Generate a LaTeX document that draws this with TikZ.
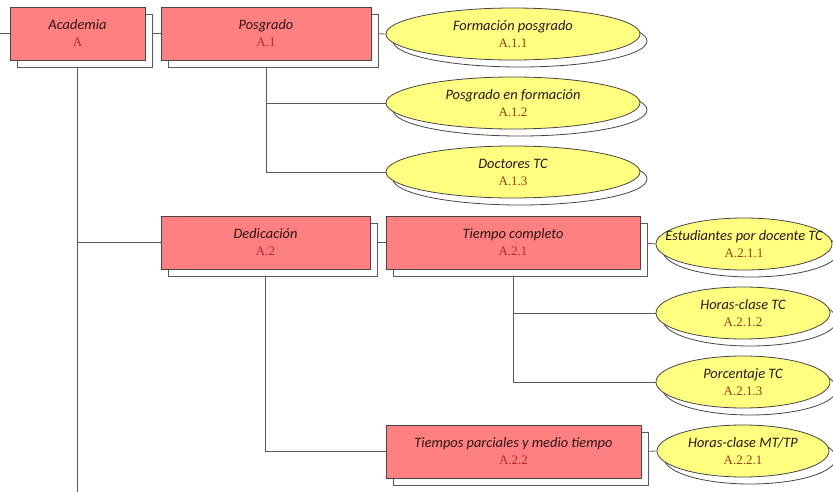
\documentclass[tikz,border=0pt]{standalone}
\usepackage{fontspec}
\setmainfont{Liberation Serif}
\newfontfamily\carl{Carlito}
\usetikzlibrary{shapes.geometric,shadows,backgrounds}
\definecolor{boxfill}{RGB}{255,128,128}
\definecolor{ellfill}{RGB}{255,255,128}
\definecolor{titcol}{RGB}{45,20,20}
\definecolor{boxcode}{RGB}{185,40,50}
\definecolor{ellcode}{RGB}{160,60,20}
\definecolor{edgecol}{RGB}{70,70,70}
\definecolor{linecol}{RGB}{90,90,90}
\newcommand{\tit}[1]{{\fontsize{14.4}{17}\selectfont\carl\itshape\color{titcol}#1}}
\tikzset{
  box/.style={rectangle, draw=edgecol, line width=0.8pt, fill=boxfill, inner sep=0pt,
    minimum height=53pt, align=center, font=\fontsize{13}{17}\selectfont, text=boxcode,
    general shadow={shadow xshift=7pt, shadow yshift=-7pt, fill=white, draw=linecol, line width=0.8pt}},
  ell/.style={ellipse, draw=edgecol, line width=0.8pt, fill=ellfill, inner sep=0pt,
    minimum height=52pt,
    general shadow={shadow xshift=7pt, shadow yshift=-7pt, fill=white, draw=edgecol, line width=0.8pt}},
  elltext/.style={align=center, font=\fontsize{13}{17}\selectfont, text=ellcode, inner sep=0pt},
  conn/.style={draw=linecol, line width=0.8pt}
}
\begin{document}
\begin{tikzpicture}[x=1pt,y=-1pt]
\useasboundingbox (0,0) rectangle (833,492);
% boxes
\node[box, minimum width=135pt] (acad) at (77.5,33.5) {\tit{Academia}\\A};
\node[box, minimum width=210pt] (posg) at (266,33.5) {\tit{Posgrado}\\A.1};
\node[box, minimum width=209pt] (ded) at (265.5,242.5) {\tit{Dedicación}\\A.2};
\node[box, minimum width=254pt] (tc) at (513,242.5) {\tit{Tiempo completo}\\A.2.1};
\node[box, minimum width=255pt] (tp) at (513.5,451.5) {\tit{Tiempos parciales y medio tiempo}\\A.2.2};
% ellipses
\node[ell, minimum width=254pt] (f1) at (513,34) {};
\node[elltext] (f1t) at (f1) {\tit{Formación posgrado}\\A.1.1};
\node[ell, minimum width=254pt] (f2) at (513,103) {};
\node[elltext] (f2t) at (f2) {\tit{Posgrado en formación}\\A.1.2};
\node[ell, minimum width=254pt] (f3) at (513,172) {};
\node[elltext] (f3t) at (f3) {\tit{Doctores TC}\\A.1.3};
\node[ell, minimum width=176pt] (e1) at (744,244) {};
\node[elltext] (e1t) at (e1) {\tit{Estudiantes por docente TC}\\A.2.1.1};
\node[ell, minimum width=174pt] (e2) at (743,313) {};
\node[elltext] (e2t) at (e2) {\tit{Horas-clase TC}\\A.2.1.2};
\node[ell, minimum width=174pt] (e3) at (743,382) {};
\node[elltext] (e3t) at (e3) {\tit{Porcentaje TC}\\A.2.1.3};
\node[ell, minimum width=172pt] (e4) at (743,451) {};
\node[elltext] (e4t) at (e4) {\tit{Horas-clase MT/TP}\\A.2.2.1};
\coordinate (lstub) at (0,33.5);
\coordinate (bottom) at (77.5,492);
\begin{pgfonlayer}{background}
\draw[conn] (lstub) -- (acad.west);
\draw[conn] (acad.east) -- (posg.west);
\draw[conn] (acad.south) -- (bottom);
\draw[conn] (acad.south |- ded.west) -- (ded.west);
\draw[conn] (posg.east) -- (f1.west);
\draw[conn] (posg.south) -- (posg.south |- f3.west) -- (f3.west);
\draw[conn] (posg.south |- f2.west) -- (f2.west);
\draw[conn] (ded.east) -- (tc.west);
\draw[conn] (tc.east) -- (e1.west);
\draw[conn] (tc.south) -- (tc.south |- e3.west) -- (e3.west);
\draw[conn] (tc.south |- e2.west) -- (e2.west);
\draw[conn] (ded.south) -- (ded.south |- tp.west) -- (tp.west);
\draw[conn] (tp.east) -- (e4.west);
\end{pgfonlayer}
\end{tikzpicture}
\end{document}
